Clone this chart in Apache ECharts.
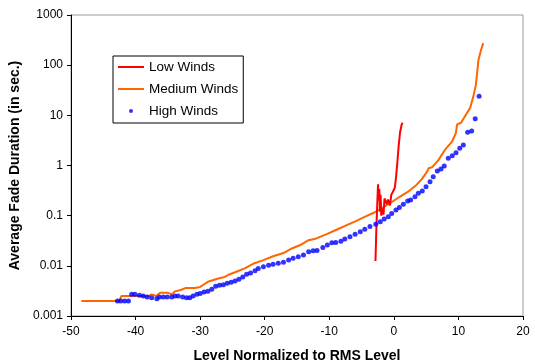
<!DOCTYPE html>
<html>
<head>
<meta charset="utf-8">
<script src="https://cdn.jsdelivr.net/npm/echarts@6/dist/echarts.min.js"></script>
<style>
  html, body { margin: 0; padding: 0; background: #fff; }
  #chart { width: 535px; height: 364px; }
</style>
</head>
<body>
<div id="chart"></div>
<script>
// Fade duration vs. level (dB relative to RMS), three wind regimes
const seriesNames = ['Low Winds', 'Medium Winds', 'High Winds'];
const xTicks = [-50, -40, -30, -20, -10, 0, 10, 20];
const yTicks = [0.001, 0.01, 0.1, 1, 10, 100, 1000];

// level (dB) values and average fade duration (s)
const lowLevel = [-2.85, -2.7, -2.55, -2.45, -2.35, -2.25, -2.15, -2.05, -1.95, -1.8, -1.6, -1.45, -1.3, -1.1, -0.9, -0.6, -0.4, -0.15, 0.15, 0.35, 0.55, 0.75, 0.95, 1.2, 1.35];
const lowDur = [0.0125, 0.06, 0.2, 0.42, 0.2, 0.34, 0.12, 0.26, 0.1, 0.14, 0.105, 0.22, 0.2, 0.17, 0.21, 0.16, 0.26, 0.3, 0.36, 0.6, 1.2, 2.5, 4.5, 6.5, 7.1];

const medLevel = [-48.4, -42.5, -42.2, -38.0, -37.5, -36.8, -36.2, -35.0, -34.4, -33.9, -33.0, -32.3, -30.8, -30.0, -29.5, -28.8, -27.2, -26.2, -25.4, -24.2, -23.1, -21.8, -20.2, -18.7, -17.1, -15.8, -14.5, -13.2, -12.0, -10.4, -8.8, -7.3, -5.8, -4.2, -3.2, -2.1, -0.6, 0.9, 2.2, 3.5, 4.3, 5.1, 5.4, 5.9, 6.9, 7.9, 9.0, 9.6, 9.8, 10.4, 11.3, 11.8, 12.3, 12.7, 13.1, 13.5, 13.85];
const medDur = [0.002, 0.002, 0.0025, 0.0025, 0.0027, 0.0025, 0.0029, 0.0029, 0.0027, 0.0031, 0.0033, 0.0036, 0.0036, 0.0038, 0.0042, 0.0048, 0.0056, 0.006, 0.0068, 0.0078, 0.0089, 0.011, 0.013, 0.0155, 0.018, 0.0222, 0.026, 0.0325, 0.0352, 0.043, 0.053, 0.065, 0.079, 0.099, 0.113, 0.135, 0.177, 0.238, 0.3, 0.41, 0.53, 0.74, 0.88, 0.92, 1.28, 2.04, 3.0, 4.4, 6.6, 7.1, 11, 13.9, 23.6, 40, 127, 200, 275];

const highLevel = [-42.8, -42.3, -41.7, -41.1, -40.6, -40.1, -39.4, -38.8, -38.2, -37.5, -36.7, -36.3, -35.7, -35.1, -34.4, -33.9, -33.4, -32.7, -32.1, -31.6, -31.1, -30.5, -30.0, -29.4, -28.8, -28.2, -27.6, -27.0, -26.4, -25.8, -25.2, -24.6, -24.0, -23.4, -22.8, -22.2, -21.5, -21.0, -20.2, -19.4, -18.7, -17.9, -17.1, -16.3, -15.6, -14.8, -14.0, -13.2, -12.5, -11.9, -11.0, -10.3, -9.6, -9.0, -8.2, -7.6, -6.8, -6.0, -5.2, -4.5, -3.7, -2.8, -2.1, -1.5, -0.86, -0.33, 0.33, 0.85, 1.47, 2.14, 2.6, 3.27, 3.79, 4.4, 4.98, 5.6, 6.1, 6.73, 7.3, 7.8, 8.43, 9.05, 9.63, 10.2, 10.76, 11.43, 12.05, 12.6, 13.2];
const highDur = [0.002, 0.002, 0.002, 0.002, 0.0027, 0.0027, 0.0026, 0.0025, 0.0024, 0.0023, 0.0022, 0.0024, 0.0024, 0.0024, 0.0024, 0.0025, 0.0025, 0.0024, 0.0023, 0.0023, 0.0025, 0.0027, 0.0028, 0.003, 0.0031, 0.0034, 0.0039, 0.0041, 0.0042, 0.0045, 0.0047, 0.005, 0.0054, 0.006, 0.0068, 0.0072, 0.008, 0.0088, 0.0096, 0.0103, 0.0108, 0.0112, 0.0118, 0.0131, 0.0141, 0.0152, 0.0164, 0.019, 0.02, 0.0201, 0.0233, 0.0259, 0.0288, 0.0293, 0.031, 0.0343, 0.0382, 0.0425, 0.048, 0.0535, 0.0605, 0.0674, 0.0758, 0.086, 0.0954, 0.111, 0.13, 0.145, 0.169, 0.196, 0.205, 0.239, 0.28, 0.31, 0.377, 0.475, 0.595, 0.775, 0.85, 0.98, 1.39, 1.57, 1.8, 2.2, 2.56, 4.6, 4.9, 8.5, 24.1];

const zip = (xs, ys) => xs.map((x, i) => [x, ys[i]]);

const FONT = '"Liberation Sans", Arial, sans-serif';

const chart = echarts.init(document.getElementById('chart'), null, { renderer: 'canvas' });

chart.setOption({
  animation: false,
  backgroundColor: '#fff',
  grid: {
    left: 71, right: 12, top: 15, bottom: 48,
    outerBoundsMode: 'none',
    show: true, borderColor: '#9a9a9a', borderWidth: 1, backgroundColor: 'transparent'
  },
  legend: {
    orient: 'vertical',
    left: 113, top: 56,
    padding: [3, 5, 4, 4],
    backgroundColor: '#fff',
    borderColor: '#000', borderWidth: 1,
    itemWidth: 26, itemHeight: 4,
    itemGap: 6,
    textStyle: { fontFamily: FONT, fontSize: 13.5, color: '#000', lineHeight: 16 },
    data: [
      // line entries: plain stroke, no marker
      { name: seriesNames[0], itemStyle: { opacity: 0 } },
      { name: seriesNames[1], itemStyle: { opacity: 0 } },
      { name: seriesNames[2], icon: 'circle' }
    ]
  },
  xAxis: {
    type: 'value',
    min: xTicks[0], max: xTicks[xTicks.length - 1], interval: 10,
    axisLine: { onZero: false, lineStyle: { color: '#000', width: 1 } },
    axisTick: { inside: false, length: 4, lineStyle: { color: '#000' } },
    splitLine: { show: false },
    axisLabel: { margin: 10, fontFamily: FONT, fontSize: 12, color: '#000' },
    name: 'Level Normalized to RMS Level',
    nameLocation: 'middle', nameGap: 33,
    nameTextStyle: { fontFamily: FONT, fontSize: 14, fontWeight: 'bold', color: '#000' }
  },
  yAxis: {
    type: 'log', logBase: 10,
    min: yTicks[0], max: yTicks[yTicks.length - 1],
    axisLine: { show: true, onZero: false, lineStyle: { color: '#000', width: 1 } },
    axisTick: { show: true, inside: false, length: 4, lineStyle: { color: '#000' } },
    splitLine: { show: false },
    minorTick: { show: false },
    axisLabel: {
      margin: 8, fontFamily: FONT, fontSize: 12, color: '#000',
      formatter: v => v >= 1 ? String(Math.round(v)) : String(parseFloat(v.toPrecision(1)))
    },
    name: 'Average Fade Duration (in sec.)',
    nameLocation: 'middle', nameGap: 40,
    nameTextStyle: { fontFamily: FONT, fontSize: 14, fontWeight: 'bold', color: '#000' }
  },
  series: [
    {
      name: seriesNames[0], type: 'line', data: zip(lowLevel, lowDur),
      symbol: 'none', color: '#ff0000',
      lineStyle: { color: '#ff0000', width: 2 }, z: 3
    },
    {
      name: seriesNames[1], type: 'line', data: zip(medLevel, medDur),
      symbol: 'none', color: '#ff6600',
      lineStyle: { color: '#ff6600', width: 2 }, z: 2
    },
    {
      name: seriesNames[2], type: 'scatter', data: zip(highLevel, highDur),
      symbol: 'circle', symbolSize: 5, color: '#0000ff',
      itemStyle: { color: '#0000ff' }, z: 4
    }
  ]
});
</script>
</body>
</html>
